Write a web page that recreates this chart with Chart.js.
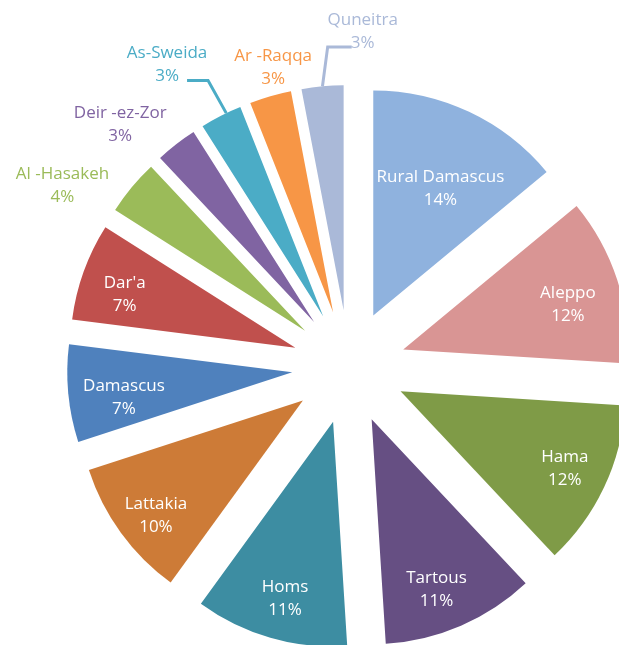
<!DOCTYPE html>
<html>
<head>
<meta charset="utf-8">
<script src="https://cdn.jsdelivr.net/npm/chart.js@4"></script>
<style>
  html, body { margin: 0; padding: 0; background: #fff; overflow: hidden; }
  #wrap { position: relative; width: 619px; height: 645px; overflow: hidden; }
  #pieChart { position: absolute; left: 0; top: 0; }
</style>
</head>
<body>
<div id="wrap"><canvas id="pieChart" width="698" height="734"></canvas></div>
<script>
const governorates = [
  "Rural Damascus", "Aleppo", "Hama", "Tartous", "Homs", "Lattakia",
  "Damascus", "Dar'a", "Al -Hasakeh", "Deir -ez-Zor", "As-Sweida",
  "Ar -Raqqa", "Quneitra"
];
const shares = [14, 12, 12, 11, 11, 10, 7, 7, 4, 3, 3, 3, 3];
const sliceColors = [
  "#8fb2de", "#d99594", "#7f9b47", "#664f83", "#3d8da2", "#cd7b37",
  "#4f81bd", "#c0504d", "#9bbb59", "#8064a2", "#4bacc6", "#f79646", "#aab9d8"
];

const RADIUS = 225;   // slice radius in px
const EXPLODE = 57;   // how far each slice is pulled away from the centre
const LINE = 23;      // gap between name and percentage

// where each label goes: distance and bearing (degrees clockwise from
// 12 o'clock) measured from the slice's own centre. The first eight are
// written in white on the slice, the rest sit outside in the slice colour.
const labelPlacement = [
  { dist: 144, bearing: 27.8 },
  { dist: 171, bearing: 74.4 },
  { dist: 181, bearing: 114.9 },
  { dist: 181, bearing: 159.0 },
  { dist: 182, bearing: 195.3 },
  { dist: 186, bearing: 232.2 },
  { dist: 170, bearing: 261.9 },
  { dist: 179, bearing: 287.5 },
  { dist: 283, bearing: 301, outside: true },
  { dist: 277, bearing: 315.6, outside: true },
  { dist: 297, bearing: 328.3, outside: true, leader: { from: 334.5, elbow: [41, 16], end: [20, 16] } },
  { dist: 253, bearing: 346.3, outside: true },
  { dist: 280, bearing: 3.9, outside: true, leader: { from: 354.6, elbow: [-35, 15], end: [-11, 15] } }
];

const toCanvasAngle = deg => (deg - 90) * Math.PI / 180;

// push every arc outwards along its mid angle
const explodePlugin = {
  id: "explode",
  afterUpdate(chart) {
    chart.getDatasetMeta(0).data.forEach(arc => {
      const mid = (arc.startAngle + arc.endAngle) / 2;
      arc.x += Math.cos(mid) * EXPLODE;
      arc.y += Math.sin(mid) * EXPLODE;
    });
  }
};

const labelPlugin = {
  id: "sliceLabels",
  afterDatasetsDraw(chart) {
    const ctx = chart.ctx;
    const arcs = chart.getDatasetMeta(0).data;
    const total = shares.reduce((a, b) => a + b, 0);
    ctx.save();
    ctx.font = '17px "Open Sans"';
    ctx.textAlign = "center";
    ctx.textBaseline = "middle";
    arcs.forEach((arc, i) => {
      const pct = Math.round(shares[i] / total * 100) + "%";
      const p = labelPlacement[i];
      const a = toCanvasAngle(p.bearing);
      const x = arc.x + Math.cos(a) * p.dist;
      const y = arc.y + Math.sin(a) * p.dist + 1;
      if (p.leader) {
        const s = toCanvasAngle(p.leader.from);
        ctx.strokeStyle = sliceColors[i];
        ctx.lineWidth = 3;
        ctx.beginPath();
        ctx.moveTo(arc.x + Math.cos(s) * arc.outerRadius, arc.y + Math.sin(s) * arc.outerRadius);
        ctx.lineTo(x + p.leader.elbow[0], y + p.leader.elbow[1]);
        ctx.lineTo(x + p.leader.end[0], y + p.leader.end[1]);
        ctx.stroke();
      }
      ctx.fillStyle = p.outside ? sliceColors[i] : "#ffffff";
      ctx.fillText(governorates[i], x, y - LINE / 2);
      ctx.fillText(pct, x, y + LINE / 2);
    });
    ctx.restore();
  }
};

new Chart(document.getElementById("pieChart"), {
  type: "pie",
  data: {
    labels: governorates,
    datasets: [{
      data: shares,
      backgroundColor: sliceColors,
      borderWidth: 0,
      radius: RADIUS
    }]
  },
  options: {
    responsive: false,
    animation: false,
    events: [],
    layout: { padding: 0 },
    plugins: { legend: { display: false }, tooltip: { enabled: false } }
  },
  plugins: [explodePlugin, labelPlugin]
});
</script>
</body>
</html>
